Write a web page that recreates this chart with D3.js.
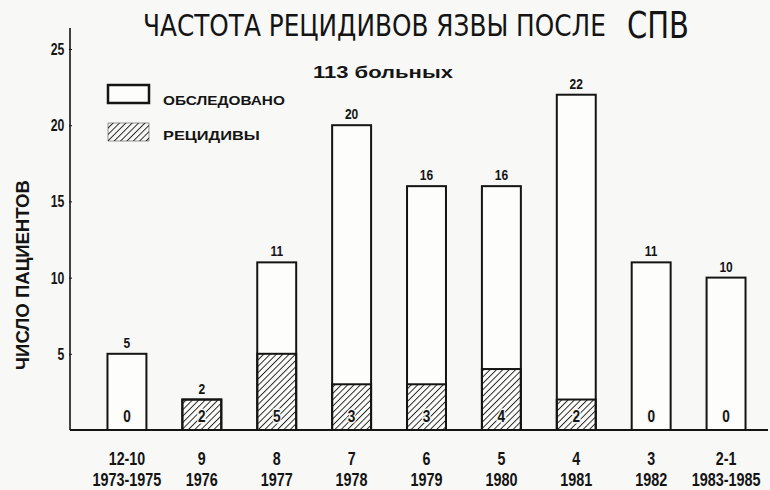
<!DOCTYPE html>
<html>
<head>
<meta charset="utf-8" />
<title>Частота рецидивов язвы после СПВ</title>
<style>
html, body {
  margin: 0;
  padding: 0;
  background-color: #f8f8f6;
}
svg { display: block; }
.cond { font-family: "Liberation Sans", Arial, sans-serif; font-weight: bold; }
</style>
</head>
<body>
<svg id="chart" width="770" height="490"></svg>
<script src="https://d3js.org/d3.v7.min.js"></script>
<script>

// ---------------------------------------------------------
// Data

const yearsAfter = ['12-10', '9', '8', '7', '6', '5', '4', '3', '2-1']
const opYears = ['1973-1975', '1976', '1977', '1978', '1979', '1980', '1981', '1982', '1983-1985']
const examined = [5, 2, 11, 20, 16, 16, 22, 11, 10]
const relapses = [0, 2, 5, 3, 3, 4, 2, 0, 0]
const yTicks = [5, 10, 15, 20, 25]

// ---------------------------------------------------------

const ink = '#141414'
const svg = d3.select('#chart')

const x = d3.scaleBand()
  .domain(d3.range(yearsAfter.length))
  .range([89.5, 763.5])
  .paddingInner(0.48)
  .paddingOuter(0.24)

const y = d3.scaleLinear()
  .domain([0, 25])
  .range([430, 49])

const cx = i => x(i) + x.bandwidth() / 2

// condensed bold text: squeeze horizontally like the hand lettering
function condText(parent, tx, ty, str, size, sx, anchor) {
  return parent.append('g')
    .attr('transform', `translate(${tx},${ty}) scale(${sx},1)`)
    .append('text')
    .attr('class', 'cond')
    .attr('text-anchor', anchor || 'middle')
    .attr('font-size', size)
    .attr('fill', ink)
    .text(str)
}

// text squeezed to a given width (start anchored)
function fitText(parent, tx, ty, str, size, width, family, rot) {
  const g = parent.append('g')
  const t = g.append('text')
    .attr('font-size', size)
    .attr('fill', ink)
    .text(str)
  if (family) t.attr('font-family', family)
  else t.attr('class', 'cond')
  const len = t.node().getComputedTextLength()
  const sx = width / len
  if (rot) {
    t.attr('text-anchor', 'middle')
    g.attr('transform', `translate(${tx},${ty}) rotate(${rot}) scale(${sx},1)`)
  } else {
    g.attr('transform', `translate(${tx},${ty}) scale(${sx},1)`)
  }
  return t
}

// hatch for relapses
const defs = svg.append('defs')
defs.append('pattern')
  .attr('id', 'hatch')
  .attr('patternUnits', 'userSpaceOnUse')
  .attr('width', 4.5)
  .attr('height', 4.5)
  .attr('patternTransform', 'rotate(45)')
  .append('line')
  .attr('x1', 0).attr('y1', 0)
  .attr('x2', 0).attr('y2', 4.5)
  .attr('stroke', '#222')
  .attr('stroke-width', 1.9)

// title
fitText(svg, 143, 36, 'ЧАСТОТА РЕЦИДИВОВ ЯЗВЫ ПОСЛЕ', 30, 463, '"DejaVu Sans", sans-serif')
fitText(svg, 627, 38, 'СПВ', 37, 62, '"DejaVu Sans", sans-serif')

fitText(svg, 313, 78, '113 больных', 17, 140)

// y axis
const yAxis = d3.axisLeft(y)
  .tickValues(yTicks)
  .tickSize(3)
  .tickPadding(5)

const gy = svg.append('g')
  .attr('transform', 'translate(70,0)')
  .call(yAxis)
gy.select('.domain').remove()
gy.selectAll('.tick line').attr('stroke', ink).attr('x1', -1).attr('x2', 2)
gy.selectAll('.tick text')
  .attr('class', 'cond')
  .attr('font-size', 17)
  .attr('fill', ink)
  .attr('transform', 'scale(0.72,1)')

svg.append('line')
  .attr('x1', 70).attr('x2', 70)
  .attr('y1', 28).attr('y2', y(0))
  .attr('stroke', ink)
  .attr('stroke-width', 1.6)

fitText(svg, 29, 275, 'ЧИСЛО ПАЦИЕНТОВ', 18, 190, null, -90)

// bars
svg.append('g')
  .selectAll('rect')
  .data(examined)
  .join('rect')
  .attr('x', (d, i) => x(i))
  .attr('y', d => y(d))
  .attr('width', x.bandwidth())
  .attr('height', d => y(0) - y(d))
  .attr('fill', '#fdfdfc')
  .attr('stroke', ink)
  .attr('stroke-width', 2)

svg.append('g')
  .selectAll('rect')
  .data(relapses.map((r, i) => ({ r, i })).filter(d => d.r > 0))
  .join('rect')
  .attr('x', d => x(d.i))
  .attr('y', d => y(d.r))
  .attr('width', x.bandwidth())
  .attr('height', d => y(0) - y(d.r))
  .attr('fill', 'url(#hatch)')
  .attr('stroke', ink)
  .attr('stroke-width', 2)

// value labels
const valG = svg.append('g')
examined.forEach((d, i) => condText(valG, cx(i), y(d) - 6, d, 15, 0.8))

const relG = svg.append('g')
relapses.forEach((d, i) => {
  condText(relG, cx(i), y(0) - 8, d, 17, 0.8)
    .attr('stroke', '#f4f4f0')
    .attr('stroke-width', 3)
    .attr('paint-order', 'stroke')
})

// baseline
svg.append('line')
  .attr('x1', 70).attr('x2', 768)
  .attr('y1', y(0)).attr('y2', y(0))
  .attr('stroke', ink)
  .attr('stroke-width', 2.2)

// x labels
const xl = svg.append('g')
yearsAfter.forEach((d, i) => {
  condText(xl, cx(i), 465, d, 19, 0.75)
  condText(xl, cx(i), 486, opYears[i], 18, 0.8)
})

// legend
const legend = svg.append('g')
legend.append('rect')
  .attr('x', 108).attr('y', 85)
  .attr('width', 41).attr('height', 18)
  .attr('fill', '#fdfdfc')
  .attr('stroke', ink)
  .attr('stroke-width', 2.5)
legend.append('rect')
  .attr('x', 108).attr('y', 123)
  .attr('width', 41).attr('height', 18)
  .attr('fill', 'url(#hatch)')
  .attr('stroke', '#333')
  .attr('stroke-width', 0.5)
fitText(legend, 163, 105, 'ОБСЛЕДОВАНО', 13, 122)
fitText(legend, 163, 140, 'РЕЦИДИВЫ', 13, 97)

</script>
</body>
</html>
